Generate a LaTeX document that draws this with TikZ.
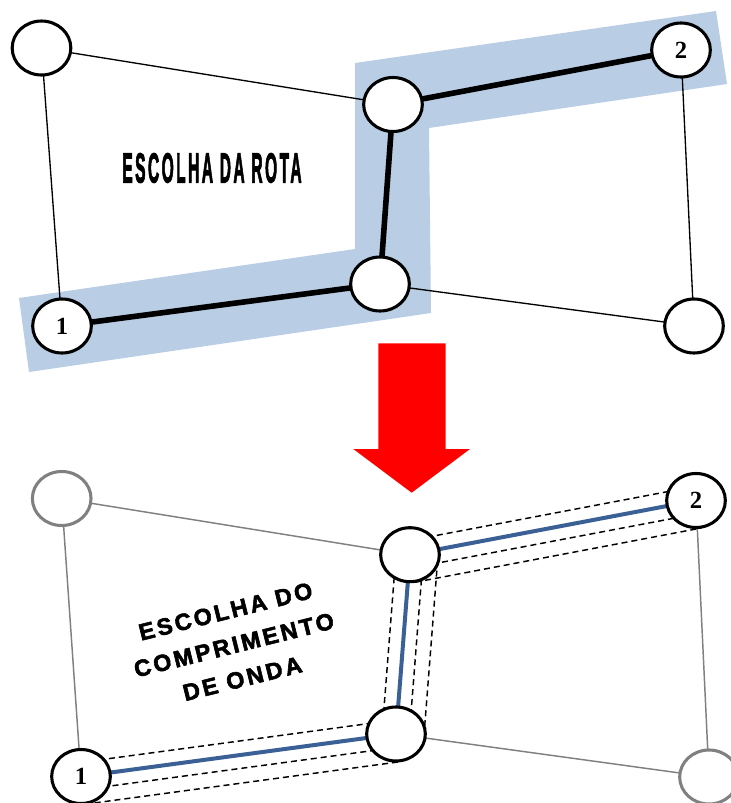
\documentclass[tikz,border=0pt]{standalone}
\usepackage{graphicx}
\usepackage{fontspec}
\setmainfont{Liberation Serif}
\newfontfamily\toptextfont[LetterSpace=16,BoldFeatures={FakeBold=3}]{Liberation Sans}
\newfontfamily\bottextfont[LetterSpace=12,BoldFeatures={FakeBold=2.5}]{Liberation Sans}
\usetikzlibrary{shapes.geometric,calc,backgrounds}
\definecolor{bandblue}{RGB}{185,205,228}
\definecolor{lineblue}{RGB}{59,96,150}
\definecolor{edgegray}{RGB}{128,128,128}
\begin{document}
\begin{tikzpicture}[x=0.75pt,y=-0.75pt,
  nd/.style={ellipse,draw=black,line width=2.3pt,fill=white,minimum width=44pt,minimum height=40.5pt,inner sep=0pt,font=\bfseries\fontsize{18.5}{20}\selectfont},
  gnd/.style={nd,draw=edgegray},
  thinedge/.style={line width=1pt,draw=black},
  grayedge/.style={line width=1.1pt,draw=edgegray},
  routeedge/.style={line width=4.2pt,draw=black},
  blueedge/.style={line width=3pt,draw=lineblue},
  lambdaline/.style={line width=1.1pt,draw=black,dash pattern=on 4.5pt off 3pt},
  toplabel/.style={font=\toptextfont\bfseries\fontsize{31.4}{34}\selectfont,inner sep=0pt},
  botlabel/.style={font=\bottextfont\bfseries\fontsize{17.5}{26}\selectfont,align=center,inner sep=0pt}]
\useasboundingbox (0,0) rectangle (731,803);

% ---------- top network ----------
\node[nd] (a1) at (41.5,48) {};
\node[nd] (b1) at (393,104.5) {};
\node[nd] (t1) at (681,50) {2};
\node[nd] (c1) at (380,284) {};
\node[nd] (o1) at (62,326) {1};
\node[nd] (d1) at (694,326) {};
\node[toplabel] (lab1) at (212,168) {\scalebox{0.37}[1]{ESCOLHA DA ROTA}};

% ---------- arrow ----------
\fill[red] (378.3,343.3) -- (445.7,343.3) -- (445.7,449) -- (470,449) -- (411.7,492.7) -- (353.3,449) -- (378.3,449) -- cycle;

% ---------- bottom network ----------
\node[gnd] (a2) at (61.7,498.5) {};
\node[nd] (b2) at (410,554.7) {};
\node[nd] (t2) at (696,500.5) {2};
\node[nd] (c2) at (396,734) {};
\node[nd] (o2) at (81,776.5) {1};
\node[gnd] (d2) at (709,777) {};
\node[botlabel,rotate=14] (lab2) at (234,645) {ESCOLHA DO\\COMPRIMENTO\\DE ONDA};

\begin{pgfonlayer}{background}
  \fill[bandblue] (19,298) -- (29,372) -- (431,313) -- (429,128) -- (727,84) -- (716,11) -- (355,63) -- (355,249) -- cycle;
  \draw[thinedge] (a1.center) -- (b1.center);
  \draw[thinedge] (a1.center) -- (o1.center);
  \draw[thinedge] (c1.center) -- (d1.center);
  \draw[thinedge] (t1.center) -- (d1.center);
  \draw[routeedge] (o1.center) -- (c1.center);
  \draw[routeedge] (c1.center) -- (b1.center);
  \draw[routeedge] (b1.center) -- (t1.center);

  \draw[grayedge] (a2.center) -- (b2.center);
  \draw[grayedge] (a2.center) -- (o2.center);
  \draw[grayedge] (c2.center) -- (d2.center);
  \draw[grayedge] (t2.center) -- (d2.center);
  \foreach \p/\q in {o2/c2, c2/b2, b2/t2} {
    \draw[blueedge] (\p.center) -- (\q.center);
    \draw[lambdaline] ($(\p.center)!10.5pt!90:(\q.center)$) -- ($(\q.center)!10.5pt!-90:(\p.center)$);
    \draw[lambdaline] ($(\p.center)!10pt!-90:(\q.center)$) -- ($(\q.center)!10pt!90:(\p.center)$);
    \draw[lambdaline] ($(\p.center)!21pt!-90:(\q.center)$) -- ($(\q.center)!21pt!90:(\p.center)$);
  }
\end{pgfonlayer}
\end{tikzpicture}
\end{document}
